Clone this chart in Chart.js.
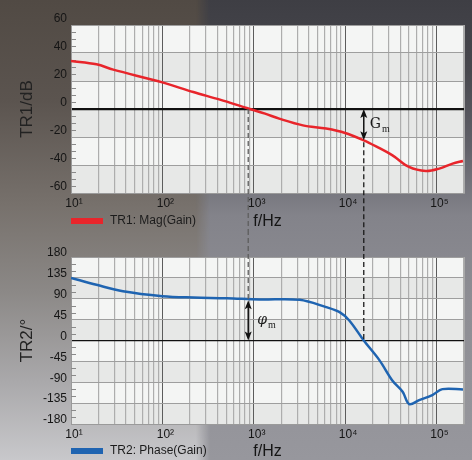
<!doctype html>
<html lang="en">
<head>
<meta charset="utf-8">
<title>Bode plot: TR1 Mag(Gain), TR2 Phase(Gain)</title>
<script src="https://cdn.jsdelivr.net/npm/chart.js"></script>
<style>
  body { margin: 0; }
  #page {
    position: relative; width: 472px; height: 460px; overflow: hidden;
    background: linear-gradient(180deg, #514a44 0px, #5b544f 100px, #77716c 205px, #8b8886 290px, #a9a8aa 380px, #c8c8cb 460px);
  }
  #shade {
    position: absolute; left: 196px; top: 0; width: 276px; height: 460px;
    background: linear-gradient(180deg, #3e3e44 0px, #47474d 70px, #62626a 150px, #83838a 215px, #8d8d93 300px, #97979d 460px);
    -webkit-mask-image: linear-gradient(to right, transparent 0, #000 14px);
    mask-image: linear-gradient(to right, transparent 0, #000 14px);
  }
  canvas { position: absolute; left: 0; }
</style>
</head>
<body>
<div id="page">
  <div id="shade"></div>
  <canvas id="mag" width="472" height="230" style="top:0"></canvas>
  <canvas id="phase" width="472" height="230" style="top:230px"></canvas>
</div>
<script>
// values
const magFreq = [10, 19, 29, 100, 218, 427, 838, 1330, 1900, 3450, 6200, 10000, 16000, 21800, 33000, 50000, 76500, 107000, 150000, 195000];
const magDb   = [34.3, 31.9, 28.1, 19.0, 12.1, 6.7, 0.7, -3.3, -6.9, -11.7, -14.0, -17.1, -22.4, -26.7, -33.1, -41.4, -44.3, -42.6, -39.0, -37.1];

const phaseFreq = [10, 19, 37, 100, 218, 506, 1160, 3180, 6200, 8700, 11100, 16000, 23700, 33000, 42600, 50300, 64600, 90000, 116000, 195000];
const phaseDeg  = [135, 120, 106, 95.5, 92.6, 91.2, 88.4, 87.7, 71.9, 61.1, 43.2, 0, -42.3, -86.8, -110.5, -137, -128.5, -117.7, -104.8, -105.5];

const decades = [10, 100, 1000, 10000, 100000];
const decadeLabels = ['10\u00b9', '10\u00b2', '10\u00b3', '10\u2074', '10\u2075'];
const fMin = 10, fMax = 200000;

// margins marked on the plot
const fGainCross = 870;     // Hz, |G| = 0 dB
const fPhaseCross = 16000;  // Hz, phase = 0
const gainMargin = -22.4;   // dB at fPhaseCross
const phaseMargin = 87;     // deg at fGainCross

const FONT = "'Liberation Sans', Arial, sans-serif";

function logTicks() {
  const out = [];
  decades.forEach(d => {
    for (let m = 1; m <= 9; m++) if (m * d <= fMax) out.push({ value: m * d });
  });
  out.push({ value: fMax });
  return out;
}

const bands = {
  id: 'bands',
  beforeDraw(chart) {
    const { ctx, chartArea: a, scales: { y } } = chart;
    const t = y.ticks.map(k => k.value).sort((p, q) => q - p);
    ctx.save();
    for (let i = 0; i < t.length - 1; i++) {
      const y0 = y.getPixelForValue(t[i]), y1 = y.getPixelForValue(t[i + 1]);
      ctx.fillStyle = i % 2 ? '#e7e8e7' : '#f4f5f4';
      ctx.fillRect(a.left, y0, a.right - a.left, y1 - y0);
    }
    ctx.restore();
  }
};

const minorTicks = {
  id: 'minorTicks',
  beforeDatasetsDraw(chart, args, opts) {
    const { ctx, chartArea: a, scales: { y } } = chart;
    ctx.save();
    ctx.strokeStyle = '#8a8a8a';
    ctx.lineWidth = 1;
    for (let v = y.min; v <= y.max; v += opts.step) {
      if (v % opts.major === 0) continue;
      const py = Math.round(y.getPixelForValue(v)) + 0.5;
      ctx.beginPath();
      ctx.moveTo(a.left, py);
      ctx.lineTo(a.left + 5, py);
      ctx.stroke();
    }
    // right edge of the plot
    ctx.strokeStyle = '#a8a8a8';
    ctx.beginPath();
    ctx.moveTo(a.right + 0.5, a.top);
    ctx.lineTo(a.right + 0.5, a.bottom);
    ctx.stroke();
    ctx.restore();
  }
};

const legendBox = {
  id: 'legendBox',
  afterDraw(chart) {
    const { ctx, chartArea: a } = chart;
    const ds = chart.data.datasets[0];
    const cy = chart.height - 9;
    ctx.save();
    ctx.fillStyle = ds.borderColor;
    ctx.fillRect(a.left, cy - 3, 32, 6);
    ctx.fillStyle = '#1c1c1c';
    ctx.font = '12px ' + FONT;
    ctx.textBaseline = 'middle';
    ctx.fillText(ds.label, a.left + 39, cy);
    ctx.restore();
  }
};

function dashed(ctx, x, y0, y1, color) {
  ctx.save();
  ctx.strokeStyle = color;
  ctx.lineWidth = 1.3;
  ctx.setLineDash([5, 3]);
  ctx.beginPath();
  ctx.moveTo(x, y0);
  ctx.lineTo(x, y1);
  ctx.stroke();
  ctx.restore();
}

function doubleArrow(ctx, x, y0, y1) {
  ctx.save();
  ctx.strokeStyle = '#111';
  ctx.fillStyle = '#111';
  ctx.lineWidth = 1.5;
  ctx.beginPath();
  ctx.moveTo(x, y0 + 6);
  ctx.lineTo(x, y1 - 6);
  ctx.stroke();
  [[y0, 1], [y1, -1]].forEach(([yy, d]) => {
    ctx.beginPath();
    ctx.moveTo(x, yy);
    ctx.lineTo(x - 3.5, yy + d * 9);
    ctx.lineTo(x, yy + d * 7);
    ctx.lineTo(x + 3.5, yy + d * 9);
    ctx.closePath();
    ctx.fill();
  });
  ctx.restore();
}

function subLabel(ctx, main, sub, x, y, italic) {
  ctx.save();
  ctx.fillStyle = '#1a1a1a';
  ctx.textBaseline = 'middle';
  ctx.font = (italic ? 'italic ' : '') + "14px 'DejaVu Serif', 'Liberation Serif', serif";
  ctx.fillText(main, x, y);
  const w = ctx.measureText(main).width;
  ctx.font = "10px 'Liberation Serif', 'DejaVu Serif', serif";
  ctx.fillText(sub, x + w + 1, y + 5);
  ctx.restore();
}

const marginsTop = {
  id: 'marginsTop',
  afterDatasetsDraw(chart) {
    const { ctx, scales: { x, y } } = chart;
    const xg = x.getPixelForValue(fGainCross), xp = x.getPixelForValue(fPhaseCross);
    dashed(ctx, xg, y.getPixelForValue(0), chart.height, '#5e5e5e');
    dashed(ctx, xp, y.getPixelForValue(gainMargin) + 2, chart.height, '#1a1a1a');
    doubleArrow(ctx, xp, y.getPixelForValue(0), y.getPixelForValue(gainMargin));
    subLabel(ctx, 'G', 'm', xp + 6, (y.getPixelForValue(0) + y.getPixelForValue(gainMargin)) / 2, false);
  }
};

const marginsBottom = {
  id: 'marginsBottom',
  afterDatasetsDraw(chart) {
    const { ctx, scales: { x, y } } = chart;
    const xg = x.getPixelForValue(fGainCross), xp = x.getPixelForValue(fPhaseCross);
    dashed(ctx, xg, 0, y.getPixelForValue(phaseMargin) - 1, '#5e5e5e');
    dashed(ctx, xp, 0, y.getPixelForValue(0), '#1a1a1a');
    doubleArrow(ctx, xg, y.getPixelForValue(phaseMargin), y.getPixelForValue(0));
    subLabel(ctx, '\u03c6', 'm', xg + 9, (y.getPixelForValue(phaseMargin) + y.getPixelForValue(0)) / 2, true);
  }
};

function makeBode(id, o) {
  return new Chart(document.getElementById(id), {
    type: 'line',
    data: {
      datasets: [{
        label: o.label,
        data: o.freq.map((f, i) => ({ x: f, y: o.values[i] })),
        borderColor: o.color,
        borderWidth: 2.5,
        pointRadius: 0,
        tension: 0.35,
        fill: false
      }]
    },
    options: {
      responsive: false,
      animation: false,
      events: [],
      layout: { padding: { top: o.top, right: 8, bottom: 0, left: 0 } },
      scales: {
        x: {
          type: 'logarithmic',
          min: fMin,
          max: fMax,
          afterFit: s => { s.height = o.xHeight; },
          afterBuildTicks: s => { s.ticks = logTicks(); },
          grid: {
            drawTicks: false,
            color: c => decades.includes(c.tick.value) ? '#5c5c5c' : '#adadad',
            lineWidth: c => decades.includes(c.tick.value) ? 1 : 1.2
          },
          border: { display: true, color: '#9a9a9a' },
          ticks: {
            autoSkip: false,
            maxRotation: 0,
            padding: 3,
            labelOffset: 3,
            color: '#151515',
            font: { family: FONT, size: 12 },
            callback: v => {
              const i = decades.indexOf(v);
              return i >= 0 ? decadeLabels[i] : '';
            }
          },
          title: {
            display: true,
            text: 'f/Hz',
            color: '#151515',
            font: { family: FONT, size: 16, lineHeight: 1 },
            padding: { top: 0, bottom: 0 }
          }
        },
        y: {
          min: o.min,
          max: o.max,
          afterFit: s => { s.width = 71; },
          grid: {
            drawTicks: false,
            color: c => c.tick.value === 0 ? '#111' : '#9e9e9e',
            lineWidth: c => c.tick.value === 0 ? o.zeroWidth : 1
          },
          border: { display: true, color: '#9a9a9a' },
          ticks: {
            stepSize: o.step,
            padding: 4,
            labelOffset: o.labelOffset,
            color: '#151515',
            font: { family: FONT, size: 12 }
          },
          title: {
            display: true,
            text: o.title,
            color: '#222',
            font: { family: FONT, size: 17, lineHeight: 1.2 },
            padding: { top: 17, bottom: 0 }
          }
        }
      },
      plugins: {
        legend: { display: false },
        tooltip: { enabled: false },
        minorTicks: { step: o.minor, major: o.step }
      }
    },
    plugins: [bands, minorTicks, legendBox, o.marks]
  });
}

makeBode('mag', {
  label: 'TR1: Mag(Gain)', title: 'TR1/dB', color: '#e8252b',
  freq: magFreq, values: magDb,
  min: -60, max: 60, step: 20, minor: 5, zeroWidth: 2.2, labelOffset: -6,
  top: 25, xHeight: 37, marks: marginsTop
});

makeBode('phase', {
  label: 'TR2: Phase(Gain)', title: 'TR2/\u00b0', color: '#1f64b1',
  freq: phaseFreq, values: phaseDeg,
  min: -180, max: 180, step: 45, minor: 15, zeroWidth: 1.3, labelOffset: -4,
  top: 27, xHeight: 36, marks: marginsBottom
});
</script>
</body>
</html>
